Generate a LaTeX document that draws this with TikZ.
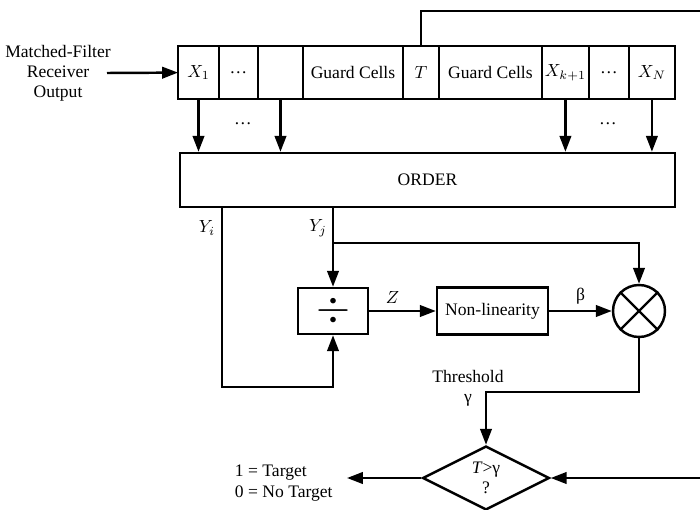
\documentclass[tikz,border=0pt]{standalone}
\usepackage{fontspec}
\setmainfont{Liberation Serif}
\usetikzlibrary{positioning, arrows.meta, shapes.geometric}
\tikzset{Cell/.style={%
    shape=rectangle,%
    draw,%
    line width=1.4pt,%
    minimum height=1.06cm,%
    inner sep=0pt,%
    outer sep=0pt,%
}}
\tikzset{Block/.style={%
    shape=rectangle,%
    draw,%
    line width=1.4pt,%
    inner sep=2pt,%
}}
\tikzset{SigEdge/.style={%
    -{Triangle[length=9pt,width=6.5pt]},%
    line width=1.4pt,%
}}
\tikzset{PlainEdge/.style={%
    line width=1.4pt,%
}}
\NewDocumentCommand{\divSign}{}{%
    {\fontsize{26}{26}\selectfont$\div$}%
}

\begin{document}
\begin{tikzpicture}[x=0.02cm, y=-0.02cm, font=\fontsize{10}{11.5}\selectfont]
    \useasboundingbox (0,0) rectangle (700,510);

    % window of cells
    \node[Cell, minimum width=0.82cm] (x1) at (198.5,72.5) {$X_1$};
    \node[Cell, minimum width=0.78cm, right=0pt of x1] (d1) {\dots};
    \node[Cell, minimum width=0.90cm, right=0pt of d1] (e1) {};
    \node[Cell, minimum width=2.00cm, right=0pt of e1] (g1) {Guard Cells};
    \node[Cell, minimum width=0.72cm, right=0pt of g1] (t) {$T$};
    \node[Cell, minimum width=2.06cm, right=0pt of t] (g2) {Guard Cells};
    \node[Cell, minimum width=0.94cm, right=0pt of g2] (xk) {$X_{k+1}$};
    \node[Cell, minimum width=0.80cm, right=0pt of xk] (d2) {\dots};
    \node[Cell, minimum width=0.92cm, right=0pt of d2] (xn) {$X_N$};

    \node[align=center] (src) at (58,73) {Matched-Filter\\Receiver\\Output};
    \coordinate (srcEnd) at (107,73);
    \draw[SigEdge] (srcEnd) -- (x1);

    \coordinate (tOut) at (700,11);
    \draw[PlainEdge] (t) |- (tOut);

    % ordering
    \node[Block, minimum width=9.9cm, minimum height=1.08cm] (order) at (427.5,180) {ORDER};
    \draw[SigEdge] (x1) -- (x1 |- order.north);
    \draw[SigEdge] (e1) -- (e1 |- order.north);
    \draw[SigEdge] (xk) -- (xk |- order.north);
    \draw[SigEdge] (xn) -- (xn |- order.north);
    \node (gap1) at (243,124) {\dots};
    \node (gap2) at (608,124) {\dots};

    \node[Block, minimum width=1.4cm, minimum height=0.92cm] (div) at (333,311) {\divSign};
    \node[Block, minimum width=2.22cm, minimum height=0.94cm] (nonlin) at (492.5,311) {Non-linearity};
    \node[Block, shape=circle, minimum size=1.04cm, inner sep=0pt] (mult) at (639,311) {};
    \draw[PlainEdge] (mult.north west) -- (mult.south east)
                     (mult.north east) -- (mult.south west);

    \coordinate (yiBot) at (222,387);
    \coordinate (yjSplit) at (333,243);
    \node (yi) at (207,228) {$Y_i$};
    \node (yj) at (318,228) {$Y_j$};
    \draw[SigEdge] (yiBot |- order.south) -- (yiBot) -| (div);
    \draw[SigEdge] (div |- order.south) -- (div);
    \draw[SigEdge] (yjSplit) -| (mult);
    \draw[SigEdge] (div) -- node[above, pos=0.35] {$Z$} (nonlin);
    \draw[SigEdge] (nonlin) -- node[above] {β} (mult);

    % decision
    \node[diamond, draw, line width=1.4pt, aspect=2, minimum width=2.54cm, minimum height=1.28cm,
          inner sep=0pt, align=center] (cmp) at (486,478) {\textit{T}>γ\\?};
    \coordinate (thr) at (486,392);
    \node[align=center] (thrLab) at (468,388) {Threshold\\γ};
    \draw[SigEdge] (mult) |- (thr) -- (cmp);

    \node[align=left, anchor=east, inner xsep=8pt] (res) at (347,483) {1 = Target\\0 = No Target};
    \draw[SigEdge] (cmp) -- (cmp -| res.east);

    \coordinate (cmpIn) at (700,478);
    \draw[SigEdge] (cmpIn) -- (cmp);
\end{tikzpicture}
\end{document}
